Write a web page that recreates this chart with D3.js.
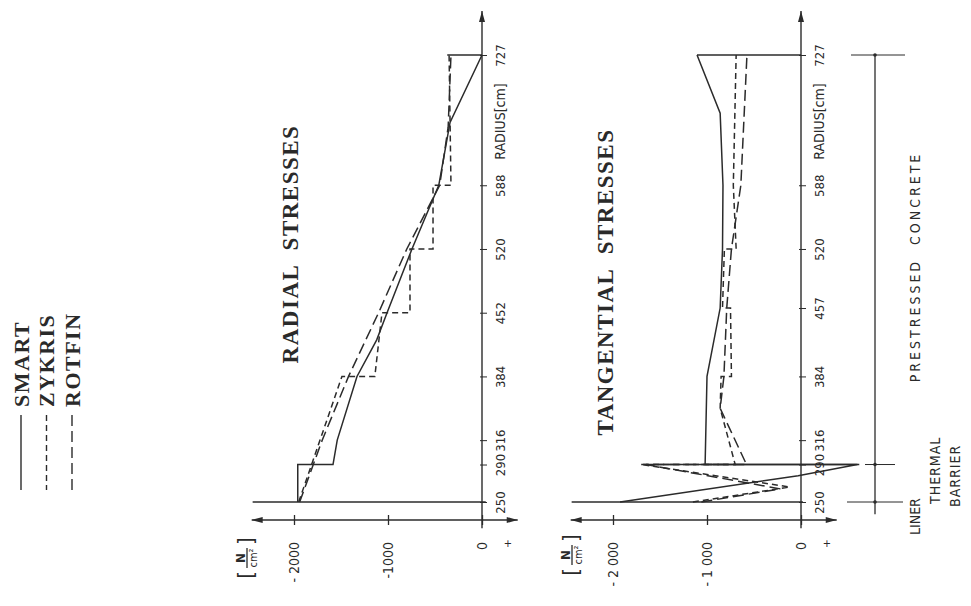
<!DOCTYPE html>
<html>
<head>
<meta charset="utf-8">
<script src="https://cdn.jsdelivr.net/npm/d3@7"></script>
<style>
  body { margin: 0; background: #fff; }
  svg { display: block; }
  .sans { font-family: "DejaVu Sans Condensed", "DejaVu Sans", sans-serif; fill: #2a2a2a; }
  .serif { font-family: "Liberation Serif", "DejaVu Serif", serif; fill: #2a2a2a; font-weight: bold; }
</style>
</head>
<body>
<div id="container"></div>
<script>
/* CONSTANTS AND GLOBALS */
const width = 971, height = 606;
const ink = "#2b2b2b";

/* DATA  [radius cm, stress N/cm2] */
const radialTicks = [250, 290, 316, 384, 452, 520, 588, 727];
const tangTicks = [250, 290, 316, 384, 457, 520, 588, 727];
const stressTicks = [-2000, -1000, 0];
const radialStressLabels = ["- 2000", "-1000", "0"];
const tangStressLabels = ["- 2 000", "- 1 000", "0"];

const series = ["SMART", "ZYKRIS", "ROTFIN"];

const smartRadial = [[250,-1960],[290,-1960],[290,-1585],[316,-1540],[384,-1330],[423,-1120],[452,-1010],[520,-745],[588,-460],[655,-340],[727,0]];
const zykrisRadial = [[250,-1950],[384,-1490],[384,-1140],[452,-1064],[452,-766],[520,-766],[520,-521],[588,-521],[588,-330],[727,-350]];
const rotfinRadial = [[250,-1940],[316,-1700],[384,-1420],[452,-1100],[520,-800],[588,-450],[650,-360],[727,-330]];

const smartTang = [[250,-1925],[278,-30],[290,600],[290,-1020],[384,-1000],[457,-860],[520,-835],[588,-830],[665,-860],[727,-1106]];
const zykrisTang = [[250,-1150],[266,-120],[290,-1700],[290,-700],[350,-860],[384,-850],[384,-740],[457,-750],[457,-835],[520,-815],[520,-690],[588,-720],[727,-690]];
const rotfinTang = [[250,-1060],[264,-220],[290,-1650],[290,-580],[350,-860],[384,-820],[457,-790],[520,-740],[588,-640],[727,-575]];

// boundary lines: radius, stress from, stress to
const radialBounds = [[250,-2440,40],[727,-370,0]];
const tangBounds = [[250,-2440,20],[290,-1700,620],[727,-1106,0]];

const dashes = {SMART: null, ZYKRIS: "6,4", ROTFIN: "11,5"};

/* SVG */
const svg = d3.select("#container")
  .append("svg")
  .attr("width", width)
  .attr("height", height)
  .style("background-color", "white");

// radius scale (vertical, shared)
const y = d3.scaleLinear().domain([250, 727]).range([502, 55]);
const axisY = 520;

function vtext(g, x, yy, txt, anchor, cls, size) {
  return g.append("text")
    .attr("class", cls)
    .attr("transform", `translate(${x},${yy}) rotate(-90)`)
    .attr("text-anchor", anchor)
    .attr("dy", "0.35em")
    .attr("font-size", size)
    .text(txt);
}

function arrow(g, x, yy, dir) {
  const L = 11, W = 3;
  let pts;
  if (dir === "up") pts = [[x, yy], [x - W, yy + L], [x + W, yy + L]];
  if (dir === "left") pts = [[x, yy], [x + L, yy - W], [x + L, yy + W]];
  if (dir === "right") pts = [[x, yy], [x - L, yy - W], [x - L, yy + W]];
  g.append("path").attr("d", d3.line()(pts) + "Z").attr("fill", ink);
}

function panel(p) {
  const x = d3.scaleLinear().domain([-2000, 0]).range([p.left, p.zero]);
  const g = svg.append("g");

  // stress axis
  g.append("line")
    .attr("x1", x(-2450)).attr("x2", x(380))
    .attr("y1", axisY).attr("y2", axisY)
    .attr("stroke", ink).attr("stroke-width", 1.4);
  arrow(g, x(-2450), axisY, "left");
  arrow(g, x(380), axisY, "right");

  const ax = g.append("g")
    .attr("transform", `translate(0,${axisY})`)
    .call(d3.axisBottom(x).tickValues(stressTicks).tickSize(5).tickFormat((d, i) => p.sLabels[i]));
  ax.select(".domain").remove();
  ax.attr("color", ink).attr("font-size", 14).attr("font-family", "DejaVu Sans Condensed, DejaVu Sans, sans-serif");
  ax.selectAll(".tick line").attr("y1", -5).attr("stroke-width", 1.3);
  ax.selectAll(".tick text")
    .attr("transform", "rotate(-90)")
    .attr("x", -22).attr("y", 0).attr("dy", "0.35em")
    .attr("text-anchor", "end")
    .style("white-space", "pre")
    .attr("fill", "#2a2a2a");

  // radius axis
  g.append("line")
    .attr("x1", x(0)).attr("x2", x(0))
    .attr("y1", y(222)).attr("y2", y(774))
    .attr("stroke", ink).attr("stroke-width", 1.4);
  arrow(g, x(0), y(774), "up");

  const ay = g.append("g")
    .attr("transform", `translate(${x(0)},0)`)
    .call(d3.axisRight(y).tickValues(p.rTicks).tickSize(5));
  ay.select(".domain").remove();
  ay.attr("color", ink).attr("font-size", 13).attr("font-family", "DejaVu Sans Condensed, DejaVu Sans, sans-serif");
  ay.selectAll(".tick line").attr("x1", -2).attr("stroke-width", 1);
  ay.selectAll(".tick text")
    .attr("transform", "rotate(-90)")
    .attr("x", 0).attr("y", 18).attr("dy", "0.35em")
    .attr("text-anchor", "middle")
    .attr("fill", "#2a2a2a");

  vtext(g, x(0) + 18, y(656), "RADIUS[cm]", "middle", "sans", 14);

  // boundaries
  g.selectAll(".bound")
    .data(p.bounds)
    .join("line")
    .attr("x1", d => x(d[1])).attr("x2", d => x(d[2]))
    .attr("y1", d => y(d[0])).attr("y2", d => y(d[0]))
    .attr("stroke", ink).attr("stroke-width", 1.3);

  // curves
  const line = d3.line().x(d => x(d[1])).y(d => y(d[0]));
  g.selectAll(".curve")
    .data(p.curves)
    .join("path")
    .attr("d", d => line(d.values))
    .attr("fill", "none")
    .attr("stroke", ink)
    .attr("stroke-width", 1.5)
    .attr("stroke-dasharray", d => dashes[d.name]);

  // title
  vtext(g, p.titleX, p.titleY, p.title, "middle", "serif", 23)
    .attr("letter-spacing", 1.5)
    .style("white-space", "pre");

  // plus sign
  g.append("text").attr("class", "sans")
    .attr("x", x(0) + 26).attr("y", axisY + 27)
    .attr("text-anchor", "middle").attr("font-size", 11).text("+");

  // unit label [N/cm2]
  const u = g.append("g").attr("transform", `translate(${p.unitX},${p.unitY}) rotate(-90)`);
  u.append("text").attr("class", "sans").attr("x", -17).attr("y", 6).attr("font-size", 22).attr("text-anchor", "middle").text("[");
  u.append("text").attr("class", "sans").attr("x", 17).attr("y", 6).attr("font-size", 22).attr("text-anchor", "middle").text("]");
  u.append("text").attr("class", "sans").attr("x", 0).attr("y", -2).attr("font-size", 13).attr("font-weight", "bold").attr("text-anchor", "middle").text("N");
  u.append("line").attr("x1", -10).attr("x2", 10).attr("y1", 0).attr("y2", 0).attr("stroke", ink).attr("stroke-width", 1.3);
  u.append("text").attr("class", "sans").attr("x", 0).attr("y", 10).attr("font-size", 11).attr("text-anchor", "middle").text("cm²");
}

panel({
  left: 294, zero: 482, rTicks: radialTicks, sLabels: radialStressLabels,
  bounds: radialBounds,
  curves: [{name: "SMART", values: smartRadial}, {name: "ZYKRIS", values: zykrisRadial}, {name: "ROTFIN", values: rotfinRadial}],
  title: "RADIAL  STRESSES", titleX: 290, titleY: 244,
  unitX: 247, unitY: 558
});

panel({
  left: 613, zero: 801, rTicks: tangTicks, sLabels: tangStressLabels,
  bounds: tangBounds,
  curves: [{name: "SMART", values: smartTang}, {name: "ZYKRIS", values: zykrisTang}, {name: "ROTFIN", values: rotfinTang}],
  title: "TANGENTIAL  STRESSES", titleX: 605, titleY: 282,
  unitX: 572, unitY: 555
});

/* LEGEND */
const legend = svg.append("g");
const legendX = d3.scalePoint().domain(series).range([21, 72]);
series.forEach(s => {
  vtext(legend, legendX(s), 407, s, "start", "serif", 22).attr("letter-spacing", 1.5);
  legend.append("line")
    .attr("x1", legendX(s)).attr("x2", legendX(s))
    .attr("y1", 415).attr("y2", 490)
    .attr("stroke", ink).attr("stroke-width", 1.4)
    .attr("stroke-dasharray", dashes[s]);
});

/* MATERIAL ZONES */
const zones = svg.append("g");
const zoneX = 875;
zones.append("line")
  .attr("x1", zoneX).attr("x2", zoneX)
  .attr("y1", y(727)).attr("y2", y(237))
  .attr("stroke", ink).attr("stroke-width", 1.3);
const zoneTicks = [[727, 24, 30], [290, 10, 20], [250, 28, 28]];
zones.selectAll(".zt")
  .data(zoneTicks)
  .join("line")
  .attr("x1", d => zoneX - d[1]).attr("x2", d => zoneX + d[2])
  .attr("y1", d => y(d[0])).attr("y2", d => y(d[0]))
  .attr("stroke", ink).attr("stroke-width", 1);
zones.selectAll(".zd")
  .data(zoneTicks)
  .join("circle")
  .attr("cx", zoneX).attr("cy", d => y(d[0]))
  .attr("r", 1.8).attr("fill", ink);

vtext(zones, 915, 267, "PRESTRESSED  CONCRETE", "middle", "sans", 14).attr("letter-spacing", 3).style("white-space", "pre");
vtext(zones, 915, 535, "LINER", "start", "sans", 14);
vtext(zones, 935, 504, "THERMAL", "start", "sans", 14).attr("letter-spacing", 1);
vtext(zones, 955, 507, "BARRIER", "start", "sans", 14).attr("letter-spacing", 1);
</script>
</body>
</html>
